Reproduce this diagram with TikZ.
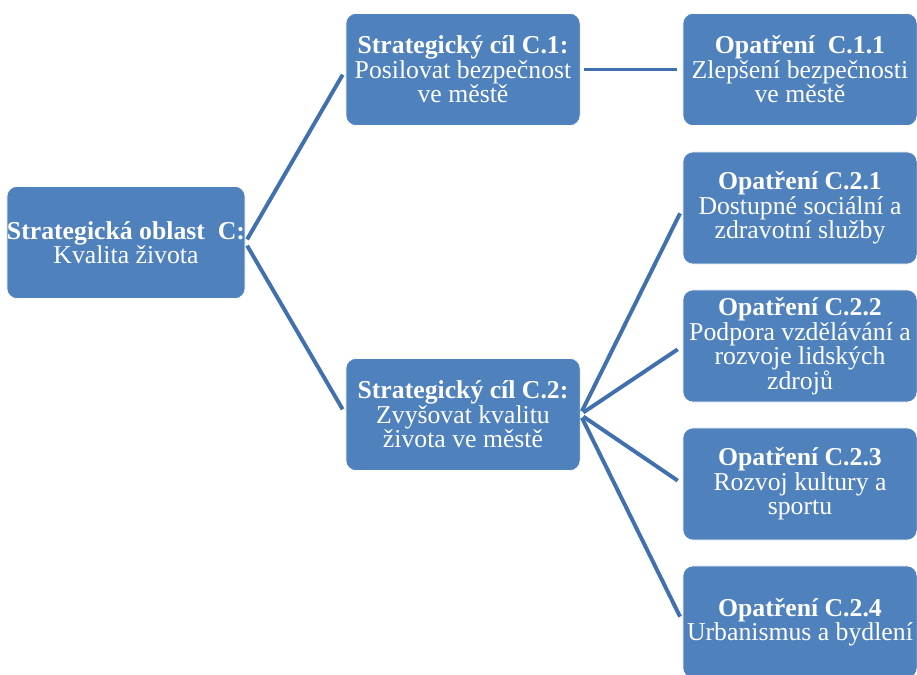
\documentclass[tikz,border=0pt]{standalone}
\usepackage{fontspec}
\setmainfont{Liberation Serif}
\usetikzlibrary{positioning}
\definecolor{boxblue}{HTML}{4F81BD}
\definecolor{lineblue}{HTML}{4170AE}
\tikzset{
    every picture/.style = {
        x = 0.025cm,
        y = -0.025cm
    },
    goal/.style = {
        draw = white,
        fill = boxblue,
        text = white,
        rounded corners = 0.25cm,
        minimum width = 5.85cm,
        minimum height = 2.8cm,
        inner sep = 0pt,
        align = center,
        font = \fontsize{18.3}{17.4}\selectfont
    },
    link/.style = {
        draw = lineblue,
        line width = 2.8pt,
        shorten < = 0.09cm,
        shorten > = 0.15cm
    }
}

\begin{document}
\begin{tikzpicture}
    \useasboundingbox (0, 0) rectangle (917, 675);
    \node[goal] (C)   at (126, 242.5) {\textbf{Strategická oblast~ C:}\\Kvalita života};
    \node[goal] (C1)  at (463, 69.5)  {\textbf{Strategický cíl C.1:}\\Posilovat bezpečnost\\ve městě};
    \node[goal] (C2)  at (463, 414.5) {\textbf{Strategický cíl C.2:}\\Zvyšovat kvalitu\\života ve městě};
    \node[goal] (C11) at (800, 69.5)  {\textbf{Opatření~ C.1.1}\\Zlepšení bezpečnosti\\ve městě};
    \node[goal] (C21) at (800, 208)   {\textbf{Opatření C.2.1}\\Dostupné sociální a\\zdravotní služby};
    \node[goal] (C22) at (800, 346)   {\textbf{Opatření C.2.2}\\Podpora vzdělávání a\\rozvoje lidských\\zdrojů};
    \node[goal] (C23) at (800, 484)   {\textbf{Opatření C.2.3}\\Rozvoj kultury a\\sportu};
    \node[goal] (C24) at (800, 622)   {\textbf{Opatření C.2.4}\\Urbanismus a bydlení};
    \path (C.east) edge[link] (C1.west) edge[link] (C2.west);
    \path (C1) edge[link] (C11.west);
    \foreach \m in {C21, C22, C23, C24}
        \path (C2.east) edge[link] (\m.west);
\end{tikzpicture}
\end{document}
